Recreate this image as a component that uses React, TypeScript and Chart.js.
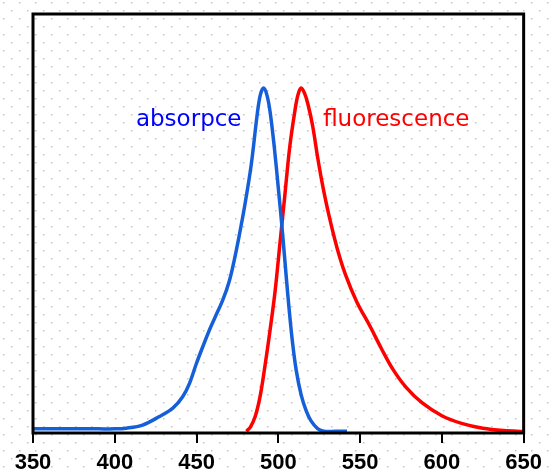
import React, { useEffect, useRef } from "react";
import { Chart, registerables } from "chart.js";

Chart.register(...registerables);

// Absorption spectrum (wavelength nm, normalised intensity)
const absorptionNm = [350, 370, 390, 400, 407, 417, 427, 435.5, 441.5, 445.7, 449.8, 453.8, 458, 461, 466, 470, 473, 476, 479.5, 483.5, 487, 489, 491, 493, 495, 497.5, 500, 502, 504, 506, 508.5, 511, 514, 517, 520, 524, 528, 535, 542];
const absorptionVal = [0.012, 0.012, 0.012, 0.012, 0.014, 0.023, 0.047, 0.072, 0.105, 0.144, 0.2, 0.25, 0.3, 0.332, 0.385, 0.44, 0.5, 0.57, 0.66, 0.78, 0.92, 0.98, 1.0, 0.98, 0.93, 0.83, 0.71, 0.61, 0.5, 0.39, 0.27, 0.18, 0.11, 0.065, 0.035, 0.013, 0.005, 0.005, 0.005];

// Fluorescence spectrum
const fluorescenceNm = [480.5, 483, 486, 489, 492, 495, 498, 501, 504, 507, 510, 512, 514, 516, 518, 521, 524, 527, 531, 536, 541, 548, 556, 563, 570, 578, 588, 600, 612, 625, 638, 650];
const fluorescenceVal = [0.005, 0.018, 0.05, 0.11, 0.2, 0.3, 0.41, 0.55, 0.69, 0.83, 0.93, 0.98, 1.0, 0.985, 0.955, 0.89, 0.8, 0.72, 0.63, 0.535, 0.46, 0.38, 0.31, 0.245, 0.185, 0.133, 0.087, 0.05, 0.028, 0.014, 0.007, 0.004];

const xTicks = [350, 400, 450, 500, 550, 600, 650];

const seriesLabels = [
  { text: "absorpce", x: 477.5, y: 0.89, color: "#0000ff", align: "right" },
  { text: "fluorescence", x: 527.4, y: 0.89, color: "#ff0000", align: "left" },
];

const backgroundPlugin = {
  id: "dotBackground",
  beforeDraw(chart: any) {
    const { ctx, width, height } = chart;
    ctx.save();
    ctx.fillStyle = "#ffffff";
    ctx.fillRect(0, 0, width, height);
    ctx.fillStyle = "#c4c4c4";
    let row = 0;
    for (let y = 2; y < height; y += 8, row++) {
      const off = row % 2 === 0 ? 3 : 11;
      for (let x = off; x < width; x += 16) {
        ctx.fillRect(x, y, 1.5, 1.5);
      }
    }
    ctx.restore();
  },
};

const framePlugin = {
  id: "frameAndLabels",
  afterDraw(chart: any) {
    const { ctx, chartArea, scales } = chart;
    ctx.save();
    ctx.strokeStyle = "#000";
    ctx.lineWidth = 3;
    ctx.strokeRect(chartArea.left, chartArea.top, chartArea.right - chartArea.left, chartArea.bottom - chartArea.top);
    ctx.font = "23px 'DejaVu Sans'";
    ctx.textBaseline = "alphabetic";
    for (const l of seriesLabels) {
      ctx.fillStyle = l.color;
      ctx.textAlign = l.align as CanvasTextAlign;
      ctx.fillText(l.text, scales.x.getPixelForValue(l.x), scales.y.getPixelForValue(l.y));
    }
    ctx.restore();
  },
};

export default function App() {
  const ref = useRef<HTMLCanvasElement | null>(null);
  useEffect(() => {
    if (!ref.current) return;
    const chart = new Chart(ref.current, {
      type: "line",
      data: {
        datasets: [
          {
            label: "absorpce",
            data: absorptionNm.map((x, i) => ({ x, y: absorptionVal[i] })),
            borderColor: "#1560d8",
            borderWidth: 3.5,
            pointRadius: 0,
            tension: 0.35,
            fill: false,
          },
          {
            label: "fluorescence",
            data: fluorescenceNm.map((x, i) => ({ x, y: fluorescenceVal[i] })),
            borderColor: "#ff0000",
            borderWidth: 3.5,
            pointRadius: 0,
            tension: 0.35,
            fill: false,
          },
        ],
      },
      options: {
        animation: false,
        responsive: false,
        layout: { padding: { left: 33, right: 24, top: 14, bottom: 0 } },
        plugins: { legend: { display: false }, tooltip: { enabled: false } },
        scales: {
          x: {
            type: "linear",
            min: 350,
            max: 650,
            afterBuildTicks: (scale: any) => {
              scale.ticks = xTicks.map((v) => ({ value: v }));
            },
            afterFit: (scale: any) => {
              scale.height = 39;
            },
            border: { display: false },
            grid: {
              drawOnChartArea: false,
              drawTicks: true,
              tickLength: 10,
              color: "#000",
              lineWidth: 2,
            },
            ticks: {
              padding: 7,
              color: "#000",
              maxRotation: 0,
              autoSkip: false,
              font: { family: "'Liberation Sans', Arial, sans-serif", size: 22, weight: "bold" },
            },
          },
          y: {
            display: false,
            min: 0,
            max: 1.2145,
          },
        },
      },
      plugins: [backgroundPlugin, framePlugin],
    });
    return () => chart.destroy();
  }, []);
  return (
    <div style={{ position: "fixed", left: 0, top: 0, width: 549, height: 472 }}>
      <canvas ref={ref} width={549} height={472} style={{ display: "block" }} />
    </div>
  );
}
